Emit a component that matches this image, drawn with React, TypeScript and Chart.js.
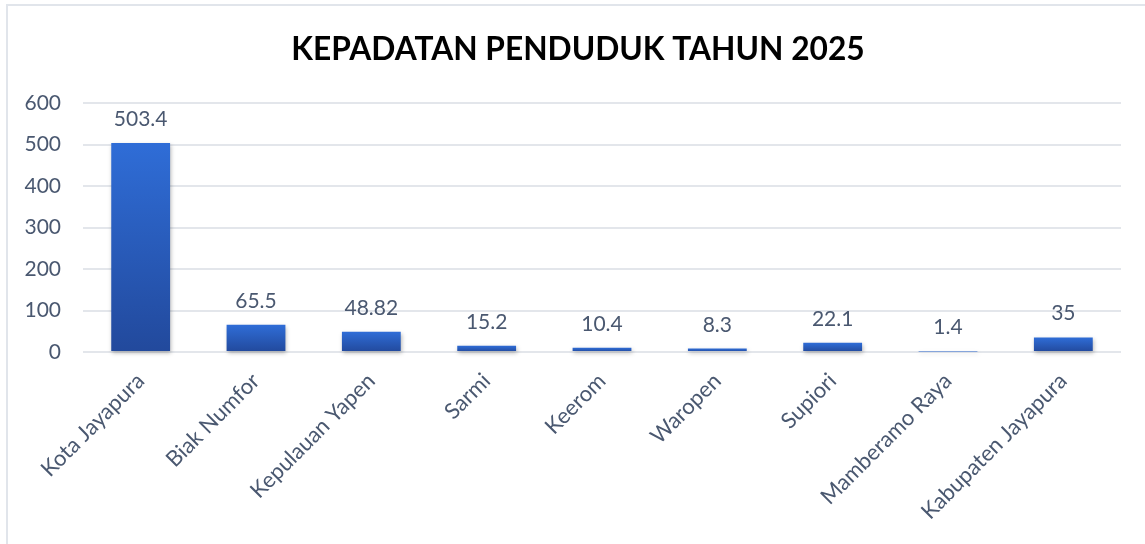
import React, { useEffect, useRef } from 'react';
import { Chart, registerables } from 'chart.js';

Chart.register(...registerables);

const chartTitle = 'KEPADATAN PENDUDUK TAHUN 2025';
const categories = [
  'Kota Jayapura',
  'Biak Numfor',
  'Kepulauan Yapen',
  'Sarmi',
  'Keerom',
  'Waropen',
  'Supiori',
  'Mamberamo Raya',
  'Kabupaten Jayapura',
];
const density = [503.4, 65.5, 48.82, 15.2, 10.4, 8.3, 22.1, 1.4, 35];
const yMin = 0;
const yMax = 600;
const yStep = 100;

const TEXT = '#4a5870';
const FONT = 'Lato, "Open Sans", sans-serif';

const titleShiftPlugin = {
  id: 'titleShift',
  afterLayout(chart: any) {
    if (chart.titleBlock) chart.titleBlock.left += 15;
  },
};

const shadowPlugin = {
  id: 'barShadow',
  beforeDatasetsDraw(chart: any) {
    const ctx = chart.ctx;
    ctx.save();
    ctx.shadowColor = 'rgba(0,0,0,0.28)';
    ctx.shadowBlur = 4;
    ctx.shadowOffsetX = 1;
    ctx.shadowOffsetY = 2;
  },
  afterDatasetsDraw(chart: any) {
    chart.ctx.restore();
  },
};

const valueLabelPlugin = {
  id: 'valueLabels',
  afterDatasetsDraw(chart: any) {
    const ctx = chart.ctx;
    const meta = chart.getDatasetMeta(0);
    ctx.save();
    ctx.font = `21px ${FONT}`;
    ctx.fillStyle = TEXT;
    ctx.textAlign = 'center';
    ctx.textBaseline = 'alphabetic';
    meta.data.forEach((el: any, i: number) => {
      const v = chart.data.datasets[0].data[i];
      ctx.fillText(String(v), el.x, el.y - 17);
    });
    ctx.restore();
  },
};

export default function App() {
  const ref = useRef<HTMLCanvasElement | null>(null);

  useEffect(() => {
    if (!ref.current) return;
    const chart = new Chart(ref.current, {
      type: 'bar',
      data: {
        labels: categories,
        datasets: [
          {
            data: density,
            clip: 6,
            categoryPercentage: 1,
            barPercentage: 0.51,
            backgroundColor: (c: any) => {
              const ch = c.chart;
              if (!ch.chartArea || c.type !== 'data') return '#2a5fc4';
              const ys = ch.scales.y;
              const top = ys.getPixelForValue(c.raw);
              const bottom = ys.getPixelForValue(0);
              const g = ch.ctx.createLinearGradient(0, top, 0, bottom + 0.01);
              g.addColorStop(0, '#2f6dd7');
              g.addColorStop(1, '#22499c');
              return g;
            },
          } as any,
        ],
      },
      options: {
        responsive: false,
        animation: false,
        devicePixelRatio: 1,
        layout: { padding: { left: 20, right: 24, top: 0, bottom: 0 } },
        plugins: {
          legend: { display: false },
          tooltip: { enabled: false },
          title: {
            display: true,
            text: chartTitle,
            color: '#000000',
            font: { family: FONT, size: 31.7, weight: 'bold' },
            padding: { top: 31, bottom: 34 },
          },
        },
        scales: {
          x: {
            grid: { display: false },
            border: { display: false },
            ticks: {
              color: TEXT,
              font: { family: FONT, size: 22 },
              maxRotation: 45,
              minRotation: 45,
              autoSkip: false,
              padding: 8,
            },
            afterFit: (s: any) => {
              s.height = 192;
            },
          },
          y: {
            min: yMin,
            max: yMax,
            grid: { color: '#e3e6eb', lineWidth: 2, drawTicks: false },
            border: { display: false },
            ticks: {
              stepSize: yStep,
              color: TEXT,
              font: { family: FONT, size: 21 },
              padding: 22,
            },
            afterFit: (s: any) => {
              s.width = 63;
            },
          },
        },
      },
      plugins: [titleShiftPlugin, shadowPlugin, valueLabelPlugin],
    });
    return () => chart.destroy();
  }, []);

  return (
    <div style={{ position: 'fixed', inset: 0, overflow: 'hidden', background: '#ffffff' }}>
      <div
        style={{
          position: 'absolute',
          left: 6,
          top: 4,
          width: 1200,
          height: 600,
          border: '2px solid #e1e5eb',
        }}
      />
      <canvas
        ref={ref}
        width={1145}
        height={544}
        style={{ position: 'absolute', left: 0, top: 0, width: 1145, height: 544 }}
      />
    </div>
  );
}
